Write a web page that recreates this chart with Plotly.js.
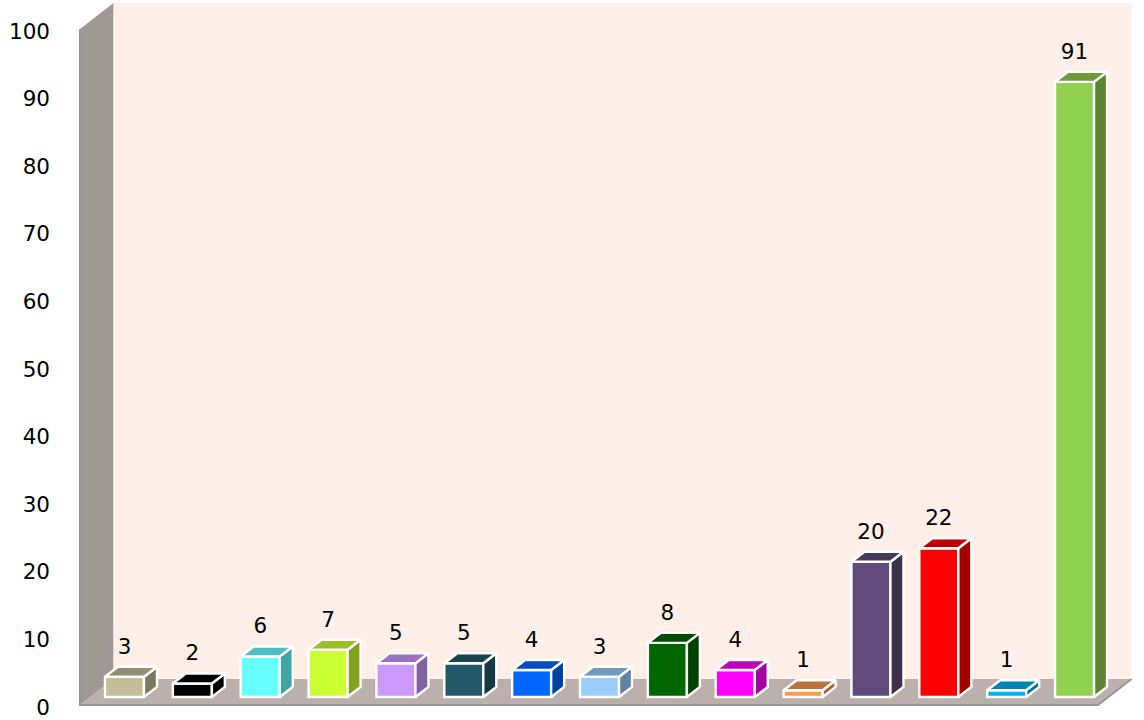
<!DOCTYPE html>
<html>
<head>
<meta charset="utf-8">
<script src="https://cdn.plot.ly/plotly-3.0.1.min.js"></script>
<style>html,body{margin:0;padding:0;background:#fff}#chart{width:1144px;height:720px}</style>
</head>
<body>
<div id="chart"></div>
<script>
var values = [3, 2, 6, 7, 5, 5, 4, 3, 8, 4, 1, 20, 22, 1, 91];
var tickValues = [0, 10, 20, 30, 40, 50, 60, 70, 80, 90, 100];
var frontColors = ['#c4bd97','#000000','#66ffff','#ccff33','#cc99ff','#215968','#0066ff','#99ccff','#006600','#ff00ff','#fb9a4a','#604a7b','#ff0000','#00b0f0','#92d050'];
var topColors = ['#938e71','#000000','#4dbfbf','#99bf26','#9973bf','#19434e','#004dbf','#7399bf','#004d00','#bf00bf','#bc7338','#48385c','#bf0000','#0084b4','#6e9c3c'];
var sideColors = ['#7d7960','#000000','#41a3a3','#82a320','#8262a3','#153942','#0041a3','#6282a3','#004100','#a300a3','#a06230','#3d2f4e','#a30000','#0070a3','#5d8533'];

var pxX = 67.86, pxY = 6.76;
var barHalf = 19.5 / pxX, depthX = 13 / pxX, depthY = 10 / pxY, baseY = 8 / pxY;
var wallX0 = (80 - 124.5) / pxX, floorX1 = (1098 - 124.5) / pxX, wallDX = 33.5 / pxX, wallDY = 26 / pxY;
var idx = values.map(function (_, i) { return i; });

function pathOf(xs, ys) {
  return xs.map(function (x, i) { return (i ? 'L' : 'M') + x + ',' + ys[i]; }).join(' ') + ' Z';
}
function roomFace(xs, ys, fill) {
  return {type:'path', layer:'below', xref:'x', yref:'y', path:pathOf(xs, ys), fillcolor:fill, line:{width:0}};
}
var shapes = [
  roomFace([wallX0,wallX0+wallDX,wallX0+wallDX,wallX0],[0,wallDY,100+wallDY,100],'#a09894'),
  roomFace([wallX0+wallDX,floorX1+wallDX,floorX1+wallDX,wallX0+wallDX],[wallDY,wallDY,100+wallDY,100+wallDY],'#fef0e9'),
  roomFace([wallX0,floorX1,floorX1+wallDX,wallX0+wallDX],[0,0,wallDY,wallDY],'#bcb0ac'),
  {type:'path', layer:'below', xref:'x', yref:'y',
   path:'M'+wallX0+',100 L'+wallX0+',0 L'+floorX1+',0 L'+(floorX1+wallDX)+','+wallDY,
   line:{color:'#969696', width:2}}
];

function poly(xs, ys, fill) {
  return {type:'scatter', mode:'lines', x:xs, y:ys, fill:'toself', fillcolor:fill,
          line:{color:'#ffffff', width:2.4}, hoverinfo:'skip', showlegend:false};
}
var traces = [];
traces.push({type:'bar', x:idx, y:values, base:baseY, width:barHalf*2,
  marker:{color:frontColors, line:{color:'#ffffff', width:2.4}}, hoverinfo:'skip', showlegend:false});

values.forEach(function (v, i) {
  var xr = i + barHalf, xl = i - barHalf, t = baseY + v;
  traces.push(poly([xr, xr+depthX, xr+depthX, xr, xr], [baseY, baseY+depthY, t+depthY, t, baseY], sideColors[i]));
  traces.push(poly([xl, xr, xr+depthX, xl+depthX, xl], [t, t, t+depthY, t+depthY, t], topColors[i]));
});

traces.push({type:'scatter', mode:'text', x:idx,
  y:values.map(function (v) { return baseY + v + 28.5 / pxY; }),
  text:values.map(String), textposition:'middle center',
  textfont:{family:'"DejaVu Sans", sans-serif', size:21.5, color:'#000000'},
  hoverinfo:'skip', showlegend:false});

var layout = {
  width:1144, height:720,
  margin:{l:51, r:0, t:0, b:0, pad:0},
  paper_bgcolor:'#ffffff', plot_bgcolor:'#ffffff',
  showlegend:false, barmode:'overlay', shapes:shapes,
  xaxis:{range:[(51-124.5)/pxX,(1144-124.5)/pxX], visible:false, fixedrange:true},
  yaxis:{range:[-15/pxY,705/pxY], tickmode:'array', tickvals:tickValues, ticktext:tickValues.map(String),
         showgrid:false, zeroline:false, showline:false, ticks:'', fixedrange:true, ticklabelshift:2,
         tickfont:{family:'"DejaVu Sans", sans-serif', size:21.5, color:'#000000'}}
};
Plotly.newPlot('chart', traces, layout, {displayModeBar:false, staticPlot:true});
</script>
</body>
</html>
